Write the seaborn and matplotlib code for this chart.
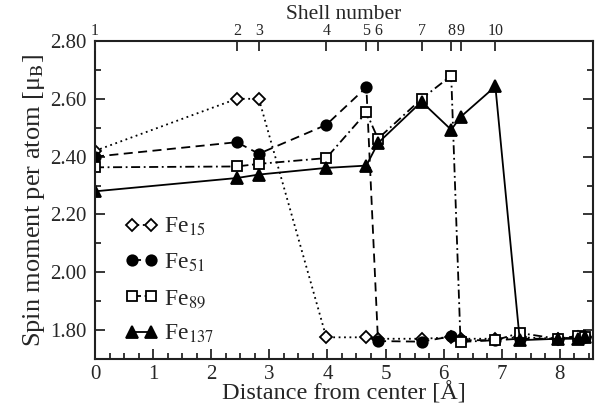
import matplotlib
matplotlib.use("Agg")
import matplotlib.pyplot as plt
import seaborn as sns
import numpy as np
from matplotlib.ticker import MultipleLocator

sns.set_theme(style="ticks")
plt.rcParams["font.family"] = ["Liberation Serif", "DejaVu Serif"]
plt.rcParams["mathtext.fontset"] = "stix"

# shell distances (Angstrom)
distance = [0.0, 2.44, 2.82, 3.98, 4.67, 4.87, 5.62, 6.13, 6.29, 6.89, 7.31, 7.96, 8.32, 8.44]
shell_labels = ["1", "2", "3", "4", "5", "6", "7", "8", "9", "10"]

fe15 = [2.42, 2.60, 2.60, 1.775, 1.775, 1.77, 1.77, 1.775, 1.77, 1.77, 1.775, 1.77, 1.775, 1.775]
fe51 = [2.40, 2.45, 2.41, 2.51, 2.64, 1.762, 1.76, 1.778, 1.765, 1.765, 1.77, 1.77, 1.775, 1.775]
fe89 = [2.363, 2.366, 2.375, 2.395, 2.553, 2.462, 2.60, 2.68, 1.759, 1.765, 1.79, 1.77, 1.78, 1.775]
fe137 = [2.28, 2.326, 2.338, 2.361, 2.369, 2.447, 2.59, 2.493, 2.537, 2.643, 1.765, 1.77, 1.77, 1.775]

series_names = ["Fe$_{15}$", "Fe$_{51}$", "Fe$_{89}$", "Fe$_{137}$"]
series_vals = [fe15, fe51, fe89, fe137]
styles = [
    dict(marker="D", linestyle=(0, (1, 2)), markerfacecolor="white", markersize=6),
    dict(marker="o", linestyle=(0, (5, 3)), markerfacecolor="black", markersize=7.5),
    dict(marker="s", linestyle=(0, (5, 2, 1, 2)), markerfacecolor="white", markersize=7),
    dict(marker="^", linestyle="-", markerfacecolor="black", markersize=8),
]

fig = plt.figure(figsize=(6.0, 4.13), dpi=100)
ax = fig.add_axes([95 / 600, 1 - 359 / 413, 498 / 600, (359 - 41) / 413])

for name, vals, st in zip(series_names, series_vals, styles):
    sns.lineplot(x=distance, y=vals, ax=ax, color="black", linewidth=1.3,
                 markeredgecolor="black", markeredgewidth=1.3, label=name,
                 sort=False, **st)

ax.set_xlim(0, 8.57)
ax.set_ylim(1.70, 2.80)
ax.xaxis.set_major_locator(MultipleLocator(1))
ax.xaxis.set_minor_locator(MultipleLocator(0.25))
ax.yaxis.set_minor_locator(MultipleLocator(0.1))
ax.set_yticks([1.8, 2.0, 2.2, 2.4, 2.6, 2.8])
ax.set_yticklabels(["1.80", "2.00", "2.20", "2.40", "2.60", "2.80"])
ax.tick_params(which="both", direction="in", top=False, right=True, width=1.3, labelsize=15)
ax.tick_params(axis="y", pad=6)
ax.tick_params(axis="x", pad=4)
ax.tick_params(which="major", length=7)
ax.tick_params(which="minor", length=4)
for s in ax.spines.values():
    s.set_linewidth(1.5)
    s.set_color("black")
ax.set_xlabel("Distance from center [Å]", fontsize=17.5, labelpad=-1)
ax.set_ylabel("Spin moment per atom [μ$_{\\rm B}$]", fontsize=19, labelpad=2)

top = ax.twiny()
top.set_xlim(ax.get_xlim())
top.set_xticks(distance[:10])
top.set_xticklabels(shell_labels)
top.tick_params(direction="in", length=7, width=1.3, labelsize=11.5, pad=1.5)
top.set_xlabel("Shell number", fontsize=15.5, labelpad=3)

leg = ax.legend(loc="upper left", bbox_to_anchor=(0.041, 0.48), frameon=False,
                numpoints=2, handlelength=1.4, handletextpad=0.25, labelspacing=0.57,
                fontsize=17, borderaxespad=0)

fig.savefig("out.png", dpi=100)
